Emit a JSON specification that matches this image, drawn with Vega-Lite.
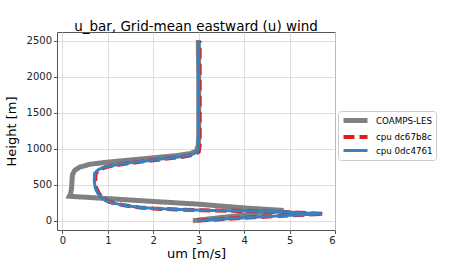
{
  "$schema": "https://vega.github.io/schema/vega-lite/v6.json",
  "autosize": "none",
  "width": 278,
  "height": 198,
  "padding": {"left": 57, "top": 32, "right": 115, "bottom": 40},
  "background": "white",
  "title": {"text": "u_bar, Grid-mean eastward (u) wind", "fontSize": 13.5, "font": "DejaVu Sans", "fontWeight": "normal", "color": "#000", "offset": -1},
  "config": {
    "font": "DejaVu Sans",
    "view": {"stroke": "#555", "strokeWidth": 1},
    "axis": {"grid": true, "gridColor": "#d6d6d6", "gridWidth": 0.8, "domain": false, "tickColor": "#555", "tickSize": 3.5, "labelFontSize": 10, "labelColor": "#222", "labelPadding": 2, "titleFontSize": 13, "titleFontWeight": "normal", "titleColor": "#000", "labelFont": "DejaVu Sans", "titleFont": "DejaVu Sans"}
  },
  "datasets": {
    "d": [
      {"run": "COAMPS-LES", "i": 0, "u": 2.87, "h": 0},
      {"run": "COAMPS-LES", "i": 1, "u": 4.87, "h": 143},
      {"run": "COAMPS-LES", "i": 2, "u": 4.0, "h": 178},
      {"run": "COAMPS-LES", "i": 3, "u": 3.0, "h": 230},
      {"run": "COAMPS-LES", "i": 4, "u": 2.0, "h": 268},
      {"run": "COAMPS-LES", "i": 5, "u": 1.0, "h": 308},
      {"run": "COAMPS-LES", "i": 6, "u": 0.5, "h": 327},
      {"run": "COAMPS-LES", "i": 7, "u": 0.15, "h": 340},
      {"run": "COAMPS-LES", "i": 8, "u": 0.18, "h": 380},
      {"run": "COAMPS-LES", "i": 9, "u": 0.2, "h": 450},
      {"run": "COAMPS-LES", "i": 10, "u": 0.21, "h": 550},
      {"run": "COAMPS-LES", "i": 11, "u": 0.22, "h": 640},
      {"run": "COAMPS-LES", "i": 12, "u": 0.27, "h": 700},
      {"run": "COAMPS-LES", "i": 13, "u": 0.38, "h": 745},
      {"run": "COAMPS-LES", "i": 14, "u": 0.6, "h": 785},
      {"run": "COAMPS-LES", "i": 15, "u": 1.0, "h": 815},
      {"run": "COAMPS-LES", "i": 16, "u": 1.5, "h": 845},
      {"run": "COAMPS-LES", "i": 17, "u": 2.0, "h": 875},
      {"run": "COAMPS-LES", "i": 18, "u": 2.5, "h": 905},
      {"run": "COAMPS-LES", "i": 19, "u": 2.82, "h": 935},
      {"run": "COAMPS-LES", "i": 20, "u": 2.95, "h": 970},
      {"run": "COAMPS-LES", "i": 21, "u": 2.99, "h": 1050},
      {"run": "COAMPS-LES", "i": 22, "u": 3.0, "h": 1200},
      {"run": "COAMPS-LES", "i": 23, "u": 3.0, "h": 1500},
      {"run": "COAMPS-LES", "i": 24, "u": 3.0, "h": 2000},
      {"run": "COAMPS-LES", "i": 25, "u": 2.99, "h": 2515},
      {"run": "cpu dc67b8c", "i": 0, "u": 2.97, "h": 2},
      {"run": "cpu dc67b8c", "i": 1, "u": 3.5, "h": 21},
      {"run": "cpu dc67b8c", "i": 2, "u": 4.2, "h": 47},
      {"run": "cpu dc67b8c", "i": 3, "u": 5.0, "h": 74},
      {"run": "cpu dc67b8c", "i": 4, "u": 5.75, "h": 96},
      {"run": "cpu dc67b8c", "i": 5, "u": 5.35, "h": 107},
      {"run": "cpu dc67b8c", "i": 6, "u": 4.9, "h": 123},
      {"run": "cpu dc67b8c", "i": 7, "u": 4.0, "h": 136},
      {"run": "cpu dc67b8c", "i": 8, "u": 3.1, "h": 144},
      {"run": "cpu dc67b8c", "i": 9, "u": 2.5, "h": 156},
      {"run": "cpu dc67b8c", "i": 10, "u": 2.0, "h": 170},
      {"run": "cpu dc67b8c", "i": 11, "u": 1.7, "h": 184},
      {"run": "cpu dc67b8c", "i": 12, "u": 1.32, "h": 218},
      {"run": "cpu dc67b8c", "i": 13, "u": 1.03, "h": 262},
      {"run": "cpu dc67b8c", "i": 14, "u": 0.9, "h": 308},
      {"run": "cpu dc67b8c", "i": 15, "u": 0.8, "h": 380},
      {"run": "cpu dc67b8c", "i": 16, "u": 0.74, "h": 460},
      {"run": "cpu dc67b8c", "i": 17, "u": 0.72, "h": 560},
      {"run": "cpu dc67b8c", "i": 18, "u": 0.73, "h": 660},
      {"run": "cpu dc67b8c", "i": 19, "u": 0.82, "h": 715},
      {"run": "cpu dc67b8c", "i": 20, "u": 0.98, "h": 750},
      {"run": "cpu dc67b8c", "i": 21, "u": 1.33, "h": 790},
      {"run": "cpu dc67b8c", "i": 22, "u": 1.74, "h": 822},
      {"run": "cpu dc67b8c", "i": 23, "u": 2.25, "h": 860},
      {"run": "cpu dc67b8c", "i": 24, "u": 2.65, "h": 890},
      {"run": "cpu dc67b8c", "i": 25, "u": 2.9, "h": 920},
      {"run": "cpu dc67b8c", "i": 26, "u": 3.0, "h": 960},
      {"run": "cpu dc67b8c", "i": 27, "u": 3.02, "h": 1050},
      {"run": "cpu dc67b8c", "i": 28, "u": 3.02, "h": 1500},
      {"run": "cpu dc67b8c", "i": 29, "u": 3.02, "h": 2000},
      {"run": "cpu dc67b8c", "i": 30, "u": 3.02, "h": 2500},
      {"run": "cpu 0dc4761", "i": 0, "u": 2.96, "h": 2},
      {"run": "cpu 0dc4761", "i": 1, "u": 3.5, "h": 22},
      {"run": "cpu 0dc4761", "i": 2, "u": 4.2, "h": 48},
      {"run": "cpu 0dc4761", "i": 3, "u": 5.0, "h": 75},
      {"run": "cpu 0dc4761", "i": 4, "u": 5.72, "h": 97},
      {"run": "cpu 0dc4761", "i": 5, "u": 5.3, "h": 108},
      {"run": "cpu 0dc4761", "i": 6, "u": 4.88, "h": 125},
      {"run": "cpu 0dc4761", "i": 7, "u": 4.0, "h": 137},
      {"run": "cpu 0dc4761", "i": 8, "u": 3.1, "h": 145},
      {"run": "cpu 0dc4761", "i": 9, "u": 2.5, "h": 158},
      {"run": "cpu 0dc4761", "i": 10, "u": 2.0, "h": 172},
      {"run": "cpu 0dc4761", "i": 11, "u": 1.68, "h": 186},
      {"run": "cpu 0dc4761", "i": 12, "u": 1.3, "h": 220},
      {"run": "cpu 0dc4761", "i": 13, "u": 1.01, "h": 264},
      {"run": "cpu 0dc4761", "i": 14, "u": 0.88, "h": 310},
      {"run": "cpu 0dc4761", "i": 15, "u": 0.78, "h": 380},
      {"run": "cpu 0dc4761", "i": 16, "u": 0.72, "h": 460},
      {"run": "cpu 0dc4761", "i": 17, "u": 0.7, "h": 560},
      {"run": "cpu 0dc4761", "i": 18, "u": 0.71, "h": 660},
      {"run": "cpu 0dc4761", "i": 19, "u": 0.8, "h": 715},
      {"run": "cpu 0dc4761", "i": 20, "u": 0.95, "h": 750},
      {"run": "cpu 0dc4761", "i": 21, "u": 1.3, "h": 790},
      {"run": "cpu 0dc4761", "i": 22, "u": 1.7, "h": 822},
      {"run": "cpu 0dc4761", "i": 23, "u": 2.2, "h": 860},
      {"run": "cpu 0dc4761", "i": 24, "u": 2.6, "h": 890},
      {"run": "cpu 0dc4761", "i": 25, "u": 2.85, "h": 920},
      {"run": "cpu 0dc4761", "i": 26, "u": 2.97, "h": 960},
      {"run": "cpu 0dc4761", "i": 27, "u": 3.0, "h": 1050},
      {"run": "cpu 0dc4761", "i": 28, "u": 3.0, "h": 1500},
      {"run": "cpu 0dc4761", "i": 29, "u": 3.0, "h": 2000},
      {"run": "cpu 0dc4761", "i": 30, "u": 3.0, "h": 2500}
    ]
  },
  "data": {"name": "d"},
  "encoding": {
    "x": {"field": "u", "type": "quantitative", "title": "um [m/s]", "scale": {"domain": [-0.12, 6], "nice": false, "zero": false}, "axis": {"values": [0, 1, 2, 3, 4, 5, 6], "titlePadding": 2}},
    "y": {"field": "h", "type": "quantitative", "title": "Height [m]", "scale": {"domain": [-129, 2625], "nice": false, "zero": false}, "axis": {"values": [0, 500, 1000, 1500, 2000, 2500], "format": "d", "titlePadding": 8}},
    "order": {"field": "i", "type": "quantitative"},
    "color": {"field": "run", "type": "nominal", "title": null, "scale": {"domain": ["COAMPS-LES", "cpu dc67b8c", "cpu 0dc4761"], "range": ["#808080", "#e41a1c", "#3a80bd"]},
      "legend": {"orient": "none", "legendX": 281, "legendY": 79, "symbolType": "M-3,0H3", "symbolSize": 64, "symbolOffset": 8, "labelFontSize": 8.7, "labelColor": "#000", "strokeColor": "#cccccc", "fillColor": "white", "padding": 3, "cornerRadius": 3, "rowPadding": -7, "labelOffset": 14}},
    "strokeDash": {"field": "run", "type": "nominal", "title": null, "scale": {"domain": ["COAMPS-LES", "cpu dc67b8c", "cpu 0dc4761"], "range": [[1, 0], [11, 5], [1, 0]]}},
    "strokeWidth": {"field": "run", "type": "nominal", "title": null, "scale": {"domain": ["COAMPS-LES", "cpu dc67b8c", "cpu 0dc4761"], "range": [5, 3, 1.8]}}
  },
  "layer": [
    {"transform": [{"filter": "datum.run === 'COAMPS-LES'"}], "mark": {"type": "line", "clip": true}},
    {"transform": [{"filter": "datum.run === 'cpu dc67b8c'"}], "mark": {"type": "line", "clip": true}},
    {"transform": [{"filter": "datum.run === 'cpu 0dc4761'"}], "mark": {"type": "line", "clip": true}}
  ]
}
